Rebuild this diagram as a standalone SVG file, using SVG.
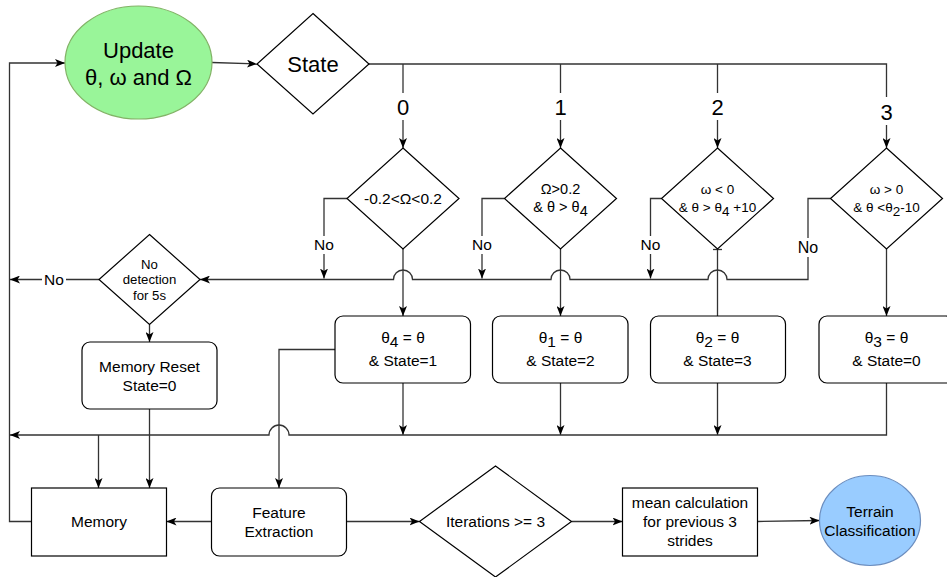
<svg xmlns="http://www.w3.org/2000/svg" width="947" height="577" viewBox="0 0 947 577">
<style>
  text { font-family: "Liberation Sans", Arial, sans-serif; fill: #000; text-anchor: middle; }
  .shape { fill: #fff; stroke: #000; stroke-width: 1.2; }
  .conn { fill: none; stroke: #333; stroke-width: 1.3; }
  .arr { marker-end: url(#arrow); }
  .t15 { font-size: 15.5px; }
  .t14 { font-size: 14px; }
  .t13 { font-size: 13.2px; }
  .t22 { font-size: 22px; }
  .bg { fill: #fff; stroke: none; }
</style>
<defs>
  <marker id="arrow" viewBox="0 0 10 8" refX="10" refY="4" markerWidth="10" markerHeight="8" orient="auto" markerUnits="userSpaceOnUse">
    <path d="M0,0 L10,4 L0,8 L2.5,4 z" fill="#000"/>
  </marker>
</defs>
<rect width="947" height="577" fill="#fff"/>

<g id="connectors">
  <path class="conn arr" d="M31.5,521.5 H9.5 V63 H65"/>
  <path class="conn arr" d="M212,62.5 L257,64"/>
  <path class="conn arr" d="M369,64 H886.5 V148"/>
  <path class="conn arr" d="M403,64 V148"/>
  <path class="conn arr" d="M560.5,64 V148"/>
  <path class="conn arr" d="M717.5,64 V148"/>
  <path class="conn arr" d="M347,198.5 H324 V278.5"/>
  <path class="conn arr" d="M504.5,198.5 H482 V278.5"/>
  <path class="conn arr" d="M661.5,198.5 H650.5 V278.5"/>
  <path class="conn arr" d="M830.5,198.5 H808 V279.5 H727 A9.5,9.5 0 0 0 708,279.5 H570 A9.5,9.5 0 0 0 551,279.5 H412.5 A9.5,9.5 0 0 0 393.5,279.5 H200"/>
  <path class="conn arr" d="M99,279.5 H10"/>
  <path class="conn arr" d="M149.5,324.5 V342"/>
  <path class="conn arr" d="M403,249 V316"/>
  <path class="conn arr" d="M560.5,249 V316"/>
  <path class="conn" d="M717.5,249 V316"/>
  <path class="conn" d="M713,249.5 H722"/>
  <path class="conn arr" d="M886.5,249 V316"/>
  <path class="conn arr" d="M403,383 V435"/>
  <path class="conn arr" d="M560.5,383 V435"/>
  <path class="conn arr" d="M717.5,383 V435"/>
  <path class="conn arr" d="M886.5,383 V435 H289 A10,10 0 0 0 269,435 H10"/>
  <path class="conn arr" d="M98.5,435 V488"/>
  <path class="conn arr" d="M149.5,409 V488"/>
  <path class="conn arr" d="M335,349.5 H279 V488"/>
  <path class="conn arr" d="M211.5,521.5 H166.5"/>
  <path class="conn arr" d="M346.5,521.5 H419.5"/>
  <path class="conn arr" d="M571.5,521.5 H622.5"/>
  <path class="conn arr" d="M757.5,521.5 L819.5,520.5"/>
  <!-- labels -->
  <rect class="bg" x="393" y="93" width="20" height="27"/>
  <text class="t22" x="403" y="114.5">0</text>
  <rect class="bg" x="550.5" y="93" width="20" height="27"/>
  <text class="t22" x="560.5" y="114.5">1</text>
  <rect class="bg" x="707.5" y="93" width="20" height="27"/>
  <text class="t22" x="717.5" y="114.5">2</text>
  <rect class="bg" x="876.5" y="97" width="20" height="28"/>
  <text class="t22" x="886.5" y="119.5">3</text>
  <rect class="bg" x="312" y="236" width="24" height="18"/>
  <text class="t15" x="324" y="249.5">No</text>
  <rect class="bg" x="470" y="236" width="24" height="18"/>
  <text class="t15" x="482" y="249.5">No</text>
  <rect class="bg" x="638.5" y="236" width="24" height="18"/>
  <text class="t15" x="650.5" y="249.5">No</text>
  <rect class="bg" x="795" y="238" width="26" height="19"/>
  <text class="t15" x="808" y="252.5" style="font-size:16px">No</text>
  <rect class="bg" x="42" y="271" width="24" height="17"/>
  <text class="t15" x="54" y="285">No</text>
</g>

<g id="update">
  <ellipse cx="138.5" cy="62.5" rx="73.5" ry="56.5" fill="#99F599" stroke="#82b366" stroke-width="1.2"/>
  <text class="t22" x="138.5" y="57.5">Update</text>
  <text class="t22" x="138.5" y="84.5">θ, ω and Ω</text>
</g>

<g id="state">
  <polygon class="shape" points="313,13.5 369,64 313,114 257,64"/>
  <text class="t22" x="313" y="71.5">State</text>
</g>

<g id="cond0">
  <polygon class="shape" points="403,148 459,198.5 403,249 347,198.5"/>
  <text class="t15" x="403" y="204">-0.2&lt;Ω&lt;0.2</text>
</g>

<g id="cond1">
  <polygon class="shape" points="560.5,148 616.5,198.5 560.5,249 504.5,198.5"/>
  <text class="t14" x="560.5" y="194.3" style="font-size:14.5px">Ω&gt;0.2</text>
  <text class="t14" x="560.5" y="212" style="font-size:14.5px">&amp; θ &gt; θ<tspan dy="3.5">4</tspan></text>
</g>

<g id="cond2">
  <polygon class="shape" points="717.5,148 773.5,198.5 717.5,249 661.5,198.5"/>
  <text class="t14" x="717.5" y="194.3" style="font-size:13.5px">ω &lt; 0</text>
  <text class="t14" x="717.5" y="212" style="font-size:13.5px">&amp; θ &gt; θ<tspan dy="3.5">4</tspan><tspan dy="-3.5"> +10</tspan></text>
</g>

<g id="cond3">
  <polygon class="shape" points="886.5,148 942.5,198.5 886.5,249 830.5,198.5"/>
  <text class="t14" x="886.5" y="194.3" style="font-size:13.5px">ω &gt; 0</text>
  <text class="t14" x="886.5" y="212" style="font-size:13.5px">&amp; θ &lt;θ<tspan dy="3.5">2</tspan><tspan dy="-3.5">-10</tspan></text>
</g>

<g id="nodetection">
  <polygon class="shape" points="149.5,234.5 200,279.5 149.5,324.5 99,279.5"/>
  <text class="t13" x="149.5" y="268.5">No</text>
  <text class="t13" x="149.5" y="284.3">detection</text>
  <text class="t13" x="149.5" y="300">for 5s</text>
</g>

<g id="memoryreset">
  <rect class="shape" x="82" y="342" width="135" height="67" rx="8"/>
  <text class="t15" x="149.5" y="371.7">Memory Reset</text>
  <text class="t15" x="149.5" y="390.7">State=0</text>
</g>

<g id="set4">
  <rect class="shape" x="335" y="316" width="135.5" height="67" rx="8"/>
  <text class="t15" x="403" y="343.3">θ<tspan dy="4">4</tspan><tspan dy="-4"> = θ</tspan></text>
  <text class="t15" x="403" y="366">&amp; State=1</text>
</g>

<g id="set1">
  <rect class="shape" x="492.5" y="316" width="135.5" height="67" rx="8"/>
  <text class="t15" x="560.5" y="343.3">θ<tspan dy="4">1</tspan><tspan dy="-4"> = θ</tspan></text>
  <text class="t15" x="560.5" y="366">&amp; State=2</text>
</g>

<g id="set2">
  <rect class="shape" x="650.5" y="316" width="135" height="67" rx="8"/>
  <text class="t15" x="717.5" y="343.3">θ<tspan dy="4">2</tspan><tspan dy="-4"> = θ</tspan></text>
  <text class="t15" x="717.5" y="366">&amp; State=3</text>
</g>

<g id="set3">
  <rect class="shape" x="819" y="316" width="135" height="67" rx="8"/>
  <text class="t15" x="886.5" y="343.3">θ<tspan dy="4">3</tspan><tspan dy="-4"> = θ</tspan></text>
  <text class="t15" x="886.5" y="366">&amp; State=0</text>
</g>

<g id="memory">
  <rect class="shape" x="31.5" y="488" width="135" height="68"/>
  <text class="t15" x="99" y="527">Memory</text>
</g>

<g id="feature">
  <rect class="shape" x="211.5" y="488" width="135" height="68" rx="8"/>
  <text class="t15" x="279" y="517.7">Feature</text>
  <text class="t15" x="279" y="536.7">Extraction</text>
</g>

<g id="iterations">
  <polygon class="shape" points="495.5,466 571.5,521.5 495.5,577 419.5,521.5"/>
  <text class="t15" x="495.5" y="526.7">Iterations &gt;= 3</text>
</g>

<g id="mean">
  <rect class="shape" x="622.5" y="488" width="135" height="68"/>
  <text class="t15" x="690" y="507.7">mean calculation</text>
  <text class="t15" x="690" y="527">for previous 3</text>
  <text class="t15" x="690" y="546">strides</text>
</g>

<g id="terrain">
  <ellipse cx="870" cy="520.5" rx="50.5" ry="45" fill="#99CCFF" stroke="#6c8ebf" stroke-width="1.2"/>
  <text class="t15" x="870" y="516.7">Terrain</text>
  <text class="t15" x="870" y="535.7">Classification</text>
</g>
</svg>
